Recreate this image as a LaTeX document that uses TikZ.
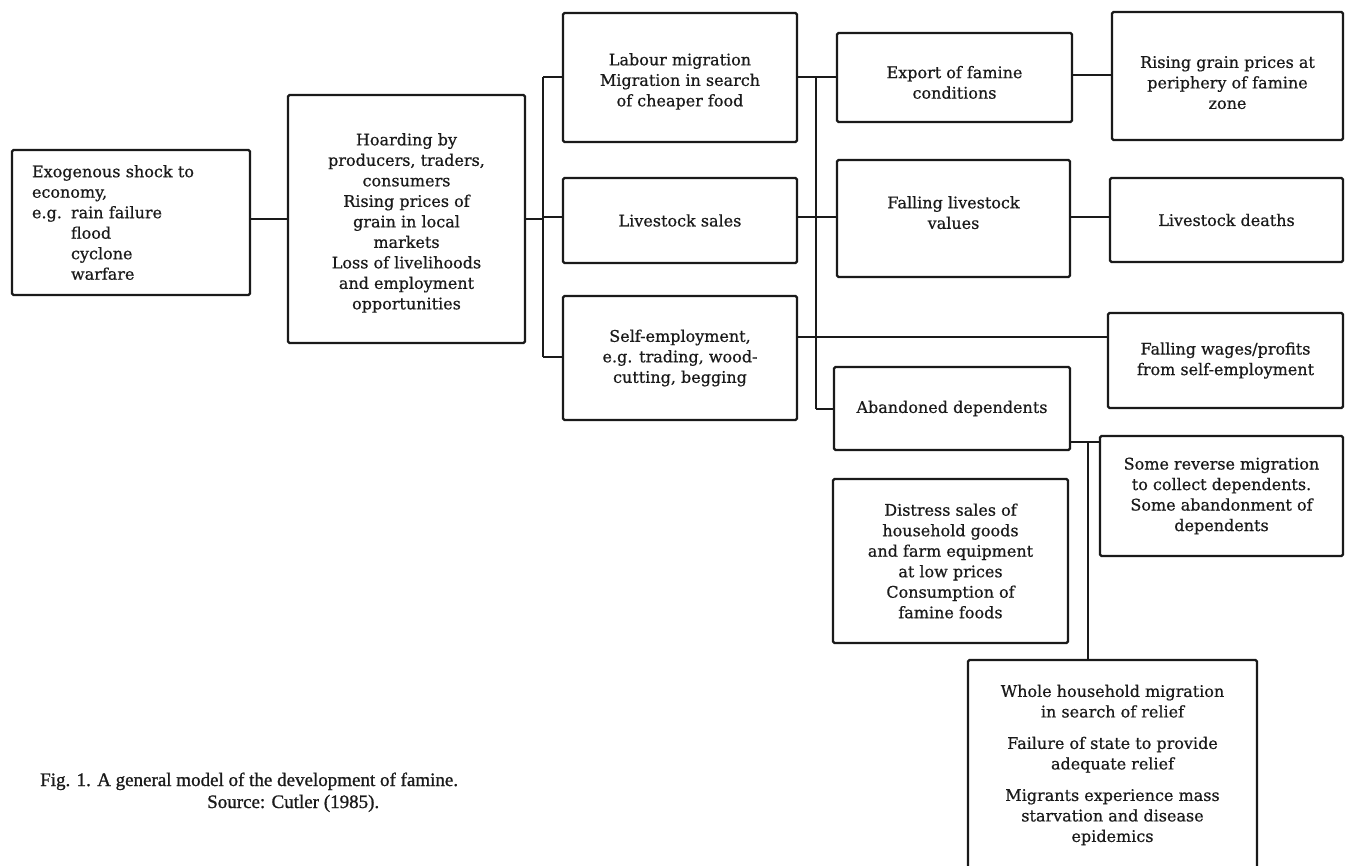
\documentclass[tikz,border=0pt]{standalone}
\usepackage{fontspec}
\setmainfont{DejaVu Serif}[FakeBold=0.6]
\newfontfamily\capfont{Liberation Serif}[FakeBold=1.0]
\definecolor{ink}{HTML}{1A1A1A}
\newcommand\upstrut[1]{\rule{0pt}{#1}}
\newcommand\downstrut[1]{\rule[-#1]{0pt}{#1}}
\begin{document}
\begin{tikzpicture}[x=1pt,y=-1pt,
  box/.style={draw=ink, line width=2.3pt, rounded corners=1.5pt, align=center,
    inner sep=0pt, text=ink, font=\fontsize{16}{20.5}\selectfont},
  conn/.style={draw=ink, line width=2pt},
  captext/.style={inner sep=0pt, text=ink, font=\capfont\fontsize{19}{22}\selectfont}]
\useasboundingbox (0,0) rectangle (1349,866);
\clip (0,0) rectangle (1349,866);
\fill[white] (0,0) rectangle (1349,866);

% column 1
\node[box, minimum height=145pt, text width=198pt, align=left, inner xsep=20pt] (exo) at (131,222.5)
  {Exogenous shock to\\economy,\\\makebox[39pt][l]{e.g.}rain failure\\\hspace*{39pt}flood\\\hspace*{39pt}cyclone\\\hspace*{39pt}warfare};

% column 2
\node[box, minimum width=237pt, minimum height=248pt] (hoard) at (406.5,219)
  {\upstrut{20pt}Hoarding by\\producers, traders,\\consumers\\Rising prices of\\grain in local\\markets\\Loss of livelihoods\\and employment\\opportunities};

% column 3
\node[box, minimum width=234pt, minimum height=129pt] (labour) at (680,77.5)
  {\upstrut{20pt}Labour migration\\Migration in search\\of cheaper food};
\node[box, minimum width=234pt, minimum height=85pt] (lsales) at (680,220.5)
  {Livestock sales};
\node[box, minimum width=234pt, minimum height=124pt] (selfemp) at (680,358)
  {Self-employment,\\e.g. trading, wood-\\cutting, begging};

% column 4
\node[box, minimum width=235pt, minimum height=89pt] (export) at (954.5,77.5)
  {\upstrut{22pt}Export of famine\\conditions};
\node[box, minimum width=233pt, minimum height=117pt] (fvalues) at (953.5,218.5)
  {Falling livestock\\values\downstrut{12pt}};
\node[box, minimum width=236pt, minimum height=83pt] (abandon) at (952,408.5)
  {Abandoned dependents};
\node[box, minimum width=235pt, minimum height=164pt] (distress) at (950.5,561)
  {Distress sales of\\household goods\\and farm equipment\\at low prices\\Consumption of\\famine foods};

% column 5
\node[box, minimum width=231pt, minimum height=128pt] (rising) at (1227.5,76)
  {\upstrut{25pt}Rising grain prices at\\periphery of famine\\zone};
\node[box, minimum width=233pt, minimum height=84pt] (ldeaths) at (1226.5,220)
  {Livestock deaths};
\node[box, minimum width=235pt, minimum height=95pt] (fwages) at (1225.5,360.5)
  {Falling wages/profits\\from self-employment};
\node[box, minimum width=243pt, minimum height=120pt] (reverse) at (1221.5,496)
  {Some reverse migration\\to collect dependents.\\Some abandonment of\\dependents};
\node[box, minimum width=289pt, minimum height=210pt] (whole) at (1112.5,765)
  {Whole household migration\\in search of relief\\[11pt]Failure of state to provide\\adequate relief\\[11pt]Migrants experience mass\\starvation and disease\\epidemics};

% caption
\node[captext, anchor=base west] (cap1) at (40,786)
  {Fig. 1. A general model of the development of famine.};
\node[captext, anchor=base west] (cap2) at (207,808)
  {Source: Cutler (1985).};

% bus coordinates
\coordinate (b1top) at (543,77);
\coordinate (b1bot) at (543,357);
\coordinate (b2top) at (816,77);
\coordinate (b2bot) at (816,409);
\coordinate (b3top) at (1088,442);

% connectors
\draw[conn] (exo.east |- 0,219) -- (hoard.west |- 0,219);
\draw[conn] (hoard.east |- 0,219) -- (b1top |- 0,219);
\draw[conn] (b1top) -- (b1bot);
\draw[conn] (b1top) -- (labour.west |- b1top);
\draw[conn] (b1top |- 0,217) -- (lsales.west |- 0,217);
\draw[conn] (b1bot) -- (selfemp.west |- b1bot);

\draw[conn] (labour.east |- b2top) -- (export.west |- b2top);
\draw[conn] (b2top) -- (b2bot);
\draw[conn] (lsales.east |- 0,217) -- (fvalues.west |- 0,217);
\draw[conn] (selfemp.east |- 0,337) -- (fwages.west |- 0,337);
\draw[conn] (b2bot) -- (abandon.west |- b2bot);

\draw[conn] (export.east |- 0,75) -- (rising.west |- 0,75);
\draw[conn] (fvalues.east |- 0,217) -- (ldeaths.west |- 0,217);

\draw[conn] (abandon.east |- b3top) -- (reverse.west |- b3top);
\draw[conn] (b3top) -- (b3top |- whole.north);
\end{tikzpicture}
\end{document}
